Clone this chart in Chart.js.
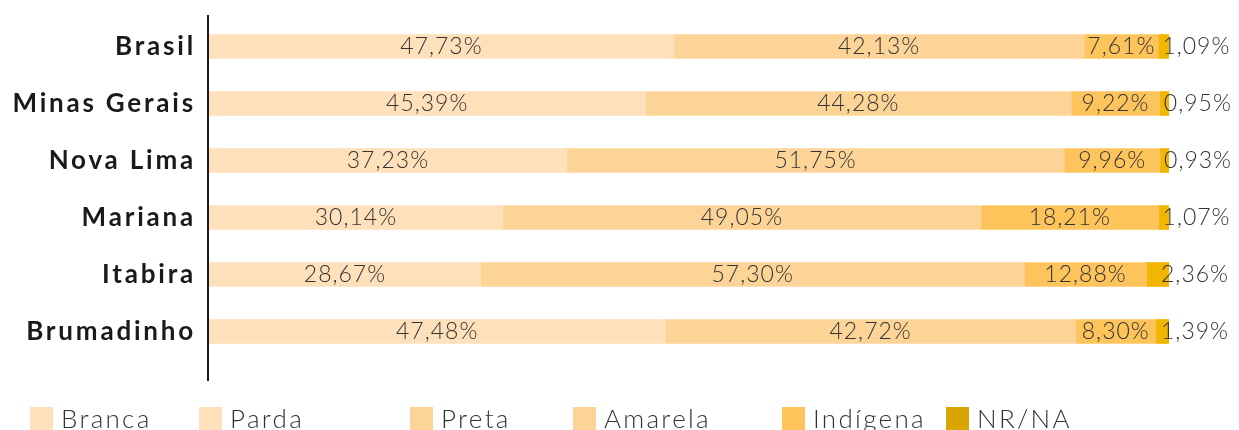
<!DOCTYPE html>
<html lang="pt-BR">
<head>
<meta charset="utf-8">
<title>Cor ou raça</title>
<script src="https://cdn.jsdelivr.net/npm/chart.js@4/dist/chart.umd.min.js"></script>
<style>
  html, body { margin: 0; padding: 0; background: #fff; overflow: hidden; }
  #wrap { position: relative; width: 1239px; height: 430px; }
  #grafico { position: absolute; left: 0; top: 0; }
  .leg { position: absolute; top: 405px; white-space: nowrap; font-family: Lato, "Noto Sans", sans-serif;
         font-weight: 300; font-size: 26px; line-height: 25px; color: #333; letter-spacing: 2.3px; }
  .leg i { position: absolute; left: 0; top: 2px; width: 23px; height: 23px; }
  .leg b { position: absolute; left: 31px; top: 1px; font-weight: 300; }
</style>
</head>
<body>
<div id="wrap">
  <canvas id="grafico" width="1239" height="430"></canvas>
  <div id="legenda"></div>
</div>
<script>
const categorias = ["Brasil", "Minas Gerais", "Nova Lima", "Mariana", "Itabira", "Brumadinho"];
const branca  = [47.73, 45.39, 37.23, 30.14, 28.67, 47.48];
const parda   = [42.13, 44.28, 51.75, 49.05, 57.30, 42.72];
const preta   = [7.61, 9.22, 9.96, 18.21, 12.88, 8.30];
const amarela = [1.09, 0.95, 0.93, 1.07, 2.36, 1.39];

const legendaNomes = ["Branca", "Parda", "Preta", "Amarela", "Indígena", "NR/NA"];
const legendaCores = ["#fee1bb", "#fee1bb", "#fdd497", "#fdd497", "#fec45c", "#dba500"];
const legendaX = [30, 199, 410, 573, 782, 946];

const series = [branca, parda, preta, amarela];
const coresBarras = ["#fee1bb", "#fdd498", "#fec45c", "#f2b600"];

// cada barra soma 100%
const totais = categorias.map((c, i) => series.reduce((s, arr) => s + arr[i], 0));
const fmt = v => v.toFixed(2).replace(".", ",") + "%";

const rotulos = {
  id: "rotulos",
  afterDatasetsDraw(chart) {
    const ctx = chart.ctx;
    ctx.save();
    ctx.font = "300 23px Lato, 'Noto Sans', sans-serif";
    ctx.letterSpacing = "1px";
    ctx.fillStyle = "#333";
    ctx.textBaseline = "middle";
    chart.data.datasets.forEach((ds, d) => {
      chart.getDatasetMeta(d).data.forEach((bar, i) => {
        const txt = fmt(ds.valores[i]);
        if (d < 3) {
          ctx.textAlign = "center";
          ctx.fillText(txt, (bar.x + bar.base) / 2, bar.y);
        } else {
          ctx.textAlign = "left";
          ctx.fillText(txt, Math.max(bar.base + 4, bar.x - 8), bar.y);
        }
      });
    });
    // categorias e eixo
    const y = chart.scales.y;
    const area = chart.chartArea;
    ctx.font = "bold 26px Lato, 'DejaVu Sans', sans-serif";
    ctx.letterSpacing = "2.8px";
    ctx.fillStyle = "#1a1a1a";
    ctx.textAlign = "right";
    categorias.forEach((c, i) => {
      ctx.fillText(c, area.left - 13, y.getPixelForValue(i));
    });
    ctx.strokeStyle = "#1a1a1a";
    ctx.lineWidth = 2;
    ctx.beginPath();
    ctx.moveTo(area.left - 1, area.top - 3);
    ctx.lineTo(area.left - 1, area.bottom + 21);
    ctx.stroke();
    ctx.restore();
  }
};

new Chart(document.getElementById("grafico").getContext("2d"), {
  type: "bar",
  data: {
    labels: categorias,
    datasets: series.map((arr, d) => ({
      label: legendaNomes[d],
      data: arr.map((v, i) => v / totais[i] * 100),
      valores: arr,
      backgroundColor: coresBarras[d],
      borderWidth: 0,
      barThickness: 24
    }))
  },
  options: {
    indexAxis: "y",
    responsive: false,
    animation: false,
    devicePixelRatio: 1,
    layout: { padding: { top: 18, right: 70, bottom: 70, left: 209 } },
    plugins: { legend: { display: false }, tooltip: { enabled: false } },
    scales: {
      x: { stacked: true, min: 0, max: 100, display: false },
      y: { stacked: true, display: false }
    }
  },
  plugins: [rotulos]
});

const legenda = document.getElementById("legenda");
legendaNomes.forEach((nome, i) => {
  const item = document.createElement("div");
  item.className = "leg";
  item.style.left = legendaX[i] + "px";
  item.innerHTML = `<i style="background:${legendaCores[i]}"></i><b>${nome}</b>`;
  legenda.appendChild(item);
});
</script>
</body>
</html>
